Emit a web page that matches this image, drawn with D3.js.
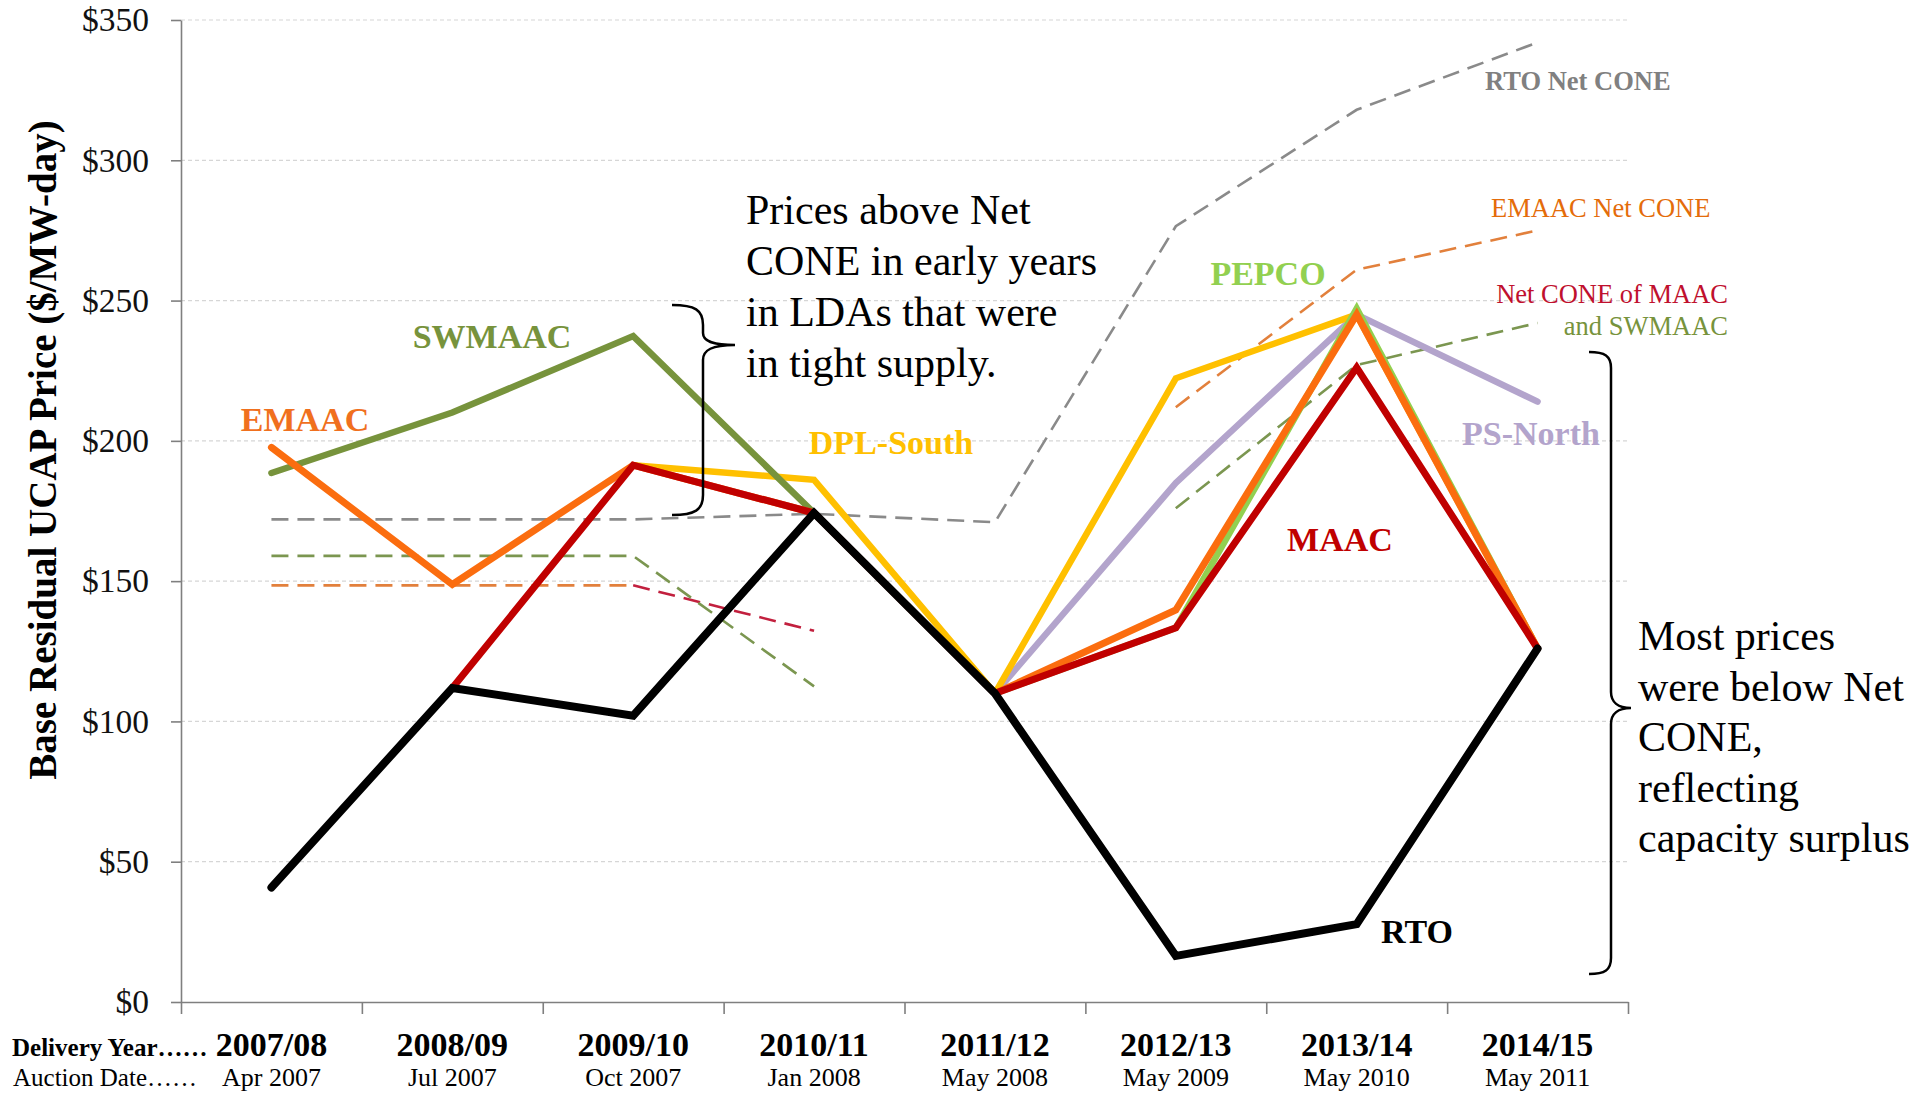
<!DOCTYPE html>
<html><head><meta charset="utf-8">
<script src="https://cdn.jsdelivr.net/npm/d3@7"></script>
<style>
html,body{margin:0;padding:0;background:#fff;}
svg{display:block;font-family:"Liberation Serif","Times New Roman",serif;}
</style></head><body>
<svg id="chart" width="1917" height="1094"></svg>
<script>
// ---------------- DATA ----------------
const categories   = ["2007/08","2008/09","2009/10","2010/11","2011/12","2012/13","2013/14","2014/15"];
const auctionDates = ["Apr 2007","Jul 2007","Oct 2007","Jan 2008","May 2008","May 2009","May 2010","May 2011"];
const yTicks = [0,50,100,150,200,250,300,350];

// Base Residual Auction clearing prices ($/MW-day)
const rto      = [40.80, 111.92, 102.04, 174.29, 110.00, 16.46, 27.73, 125.99];
const maac     = [null, 111.92, 191.32, 174.29, 110.00, 133.37, 226.15, 125.99];
const emaac    = [197.67, 148.80, 191.32, 174.29, 110.00, 139.73, 245.00, 125.99];
const swmaac   = [188.54, 210.11, 237.33, 174.29, null, null, null, null];
const pepco    = [null, null, null, null, 110.00, 133.37, 247.14, 125.99];
const dplSouth = [null, null, 191.32, 186.12, 110.00, 222.30, 245.00, 125.99];
const psNorth  = [null, null, null, null, 110.00, 185.00, 245.00, 213.97];

// Net CONE reference lines ($/MW-day)
const rtoNetCone        = [172, 172, 172, 174, 171, 276.5, 318, 342];
const emaacNetCone      = [148.5, 148.5, 148.5, null, null, 212, 261, 275];
const maacNetCone       = [null, null, 148.5, 132.3, null, null, null, null];
const maacSwmaacNetCone = [159, 159, 159, 112.5, null, 176, 227, 242];

// ---------------- CHART ----------------
const svg = d3.select("#chart");
const X0 = 181, X1 = 1628, Y0 = 1002, Y1 = 20;

const x = d3.scaleBand().domain(categories).range([X0, X1]);
const cx = c => x(c) + x.bandwidth() / 2;
const xi = d3.scaleLinear().domain([0, categories.length]).range([X0, X1]);
const y = d3.scaleLinear().domain([0, 350]).range([Y0, Y1]);

// gridlines
svg.append("g").selectAll("line").data(yTicks.filter(d => d > 0)).join("line")
  .attr("x1", X0).attr("x2", X1)
  .attr("y1", d => y(d)).attr("y2", d => y(d))
  .attr("stroke", "#d6d6d6").attr("stroke-width", 1.2).attr("stroke-dasharray", "4,3");

// y axis
const yAxis = svg.append("g").attr("transform", `translate(${X0},0)`)
  .call(d3.axisLeft(y).tickValues(yTicks).tickSize(10).tickSizeOuter(0).tickPadding(22).tickFormat(d => "$" + d));
yAxis.select(".domain").attr("stroke", "#7f7f7f").attr("stroke-width", 1.6);
yAxis.selectAll(".tick line").attr("stroke", "#7f7f7f").attr("stroke-width", 1.6);
yAxis.selectAll(".tick text").attr("font-size", 33.5).attr("fill", "#111")
  .attr("font-family", "Liberation Serif");

// x axis (ticks at category boundaries)
const xAxis = svg.append("g").attr("transform", `translate(0,${Y0})`)
  .call(d3.axisBottom(xi).tickValues(d3.range(categories.length + 1)).tickSize(12).tickSizeOuter(0).tickFormat(""));
xAxis.select(".domain").attr("stroke", "#7f7f7f").attr("stroke-width", 1.6);
xAxis.selectAll(".tick line").attr("stroke", "#7f7f7f").attr("stroke-width", 1.6);

// category labels
svg.append("g").selectAll("text").data(categories).join("text")
  .attr("x", d => cx(d)).attr("y", 1056).attr("text-anchor", "middle")
  .attr("font-size", 34).attr("font-weight", "bold").attr("fill", "#000").text(d => d);
svg.append("g").selectAll("text").data(auctionDates).join("text")
  .attr("x", (d, i) => cx(categories[i])).attr("y", 1086).attr("text-anchor", "middle")
  .attr("font-size", 26).attr("fill", "#000").text(d => d);
svg.append("text").attr("x", 12).attr("y", 1056).attr("font-size", 25).attr("font-weight", "bold")
  .text("Delivery Year……");
svg.append("text").attr("x", 13).attr("y", 1086).attr("font-size", 25)
  .text("Auction Date……");

// y axis title
svg.append("text").attr("transform", "translate(56,450) rotate(-90)")
  .attr("text-anchor", "middle").attr("font-size", 39).attr("font-weight", "bold")
  .text("Base Residual UCAP Price ($/MW-day)");

// lines
const line = d3.line().defined(d => d != null)
  .x((d, i) => cx(categories[i])).y(d => y(d));

const dashed = [
  {v: rtoNetCone, c: "#8a8a8a"},
  {v: emaacNetCone, c: "#e2803c"},
  {v: maacNetCone, c: "#c2203e"},
  {v: maacSwmaacNetCone, c: "#7b9650"}
];
svg.append("g").selectAll("path").data(dashed).join("path")
  .attr("d", d => line(d.v)).attr("fill", "none")
  .attr("stroke", d => d.c).attr("stroke-width", 2.6).attr("stroke-dasharray", "17,9");

const solid = [
  {v: psNorth,  c: "#b3a4cc", w: 6.5},
  {v: dplSouth, c: "#ffc000", w: 6.5},
  {v: swmaac,   c: "#77933c", w: 6.5},
  {v: pepco,    c: "#92d050", w: 6.5},
  {v: emaac,    c: "#fb6d0f", w: 7},
  {v: maac,     c: "#c00000", w: 7},
  {v: rto,      c: "#000000", w: 8}
];
svg.append("g").selectAll("path").data(solid).join("path")
  .attr("d", d => line(d.v)).attr("fill", "none")
  .attr("stroke", d => d.c).attr("stroke-width", d => d.w)
  .attr("stroke-linecap", "round").attr("stroke-linejoin", "miter");

// series labels
const lab = (t, px, py, col, opt = {}) => svg.append("text")
  .attr("x", px).attr("y", py).attr("fill", col)
  .attr("text-anchor", opt.anchor || "middle")
  .attr("font-size", opt.size || 34)
  .attr("font-weight", opt.bold === false ? "normal" : "bold").text(t);

lab("SWMAAC", 492, 348, "#77933c");
lab("EMAAC", 305, 431, "#f0701e");
lab("DPL-South", 891, 454, "#ffc000");
lab("PEPCO", 1268, 285, "#92d050");
lab("PS-North", 1531, 445, "#b3a4cc");
lab("MAAC", 1340, 551, "#c00000");
lab("RTO", 1417, 943, "#000000");
lab("RTO Net CONE", 1485, 90, "#808080", {anchor: "start", size: 26.5});
lab("EMAAC Net CONE", 1491, 217, "#e46c0a", {anchor: "start", size: 26.5, bold: false});
lab("Net CONE of MAAC", 1728, 303, "#c0102e", {anchor: "end", size: 26.5, bold: false});
lab("and SWMAAC", 1728, 335, "#77933c", {anchor: "end", size: 26.5, bold: false});

// annotations
const note1 = ["Prices above Net", "CONE in early years", "in LDAs that were", "in tight supply."];
svg.append("g").selectAll("text").data(note1).join("text")
  .attr("x", 746).attr("y", (d, i) => 224 + i * 51)
  .attr("font-size", 42).attr("fill", "#000").text(d => d);
const note2 = ["Most prices", "were below Net", "CONE,", "reflecting", "capacity surplus"];
svg.append("g").selectAll("text").data(note2).join("text")
  .attr("x", 1638).attr("y", (d, i) => 650 + i * 50.5)
  .attr("font-size", 42).attr("fill", "#000").text(d => d);

// braces
svg.append("path")
  .attr("d", "M672,305 C695,305 703,310 703,325 L703,333 C703,341 712,345 735,345 C712,345 703,350 703,360 L703,495 C703,510 695,515 672,515")
  .attr("fill", "none").attr("stroke", "#000").attr("stroke-width", 2.5);
svg.append("path")
  .attr("d", "M1589,352 C1605,352 1611,356 1611,368 L1611,692 C1611,702 1618,708 1631,708 C1618,708 1611,714 1611,724 L1611,958 C1611,970 1605,974 1589,974")
  .attr("fill", "none").attr("stroke", "#000").attr("stroke-width", 2.5);
</script>
</body></html>
